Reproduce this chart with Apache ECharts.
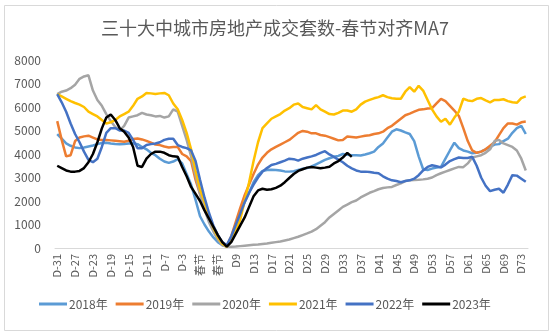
<!DOCTYPE html>
<html><head><meta charset="utf-8">
<script src="https://cdn.jsdelivr.net/npm/echarts@6/dist/echarts.min.js"></script>
<style>html,body{margin:0;padding:0;background:#fff}#c{width:550px;height:331px}</style>
</head><body><div id="c"></div>
<script>
var categories = ['D-31','D-30','D-29','D-28','D-27','D-26','D-25','D-24','D-23','D-22','D-21','D-20','D-19','D-18','D-17','D-16','D-15','D-14','D-13','D-12','D-11','D-10','D-9','D-8','D-7','D-6','D-5','D-4','D-3','D-2','D-1',
'春节','春节','春节','春节','春节','春节','春节','春节',
'D8','D9','D10','D11','D12','D13','D14','D15','D16','D17','D18','D19','D20','D21','D22','D23','D24','D25','D26','D27','D28','D29','D30','D31','D32','D33','D34','D35','D36','D37','D38','D39','D40','D41','D42','D43','D44','D45','D46','D47','D48','D49','D50','D51','D52','D53','D54','D55','D56','D57','D58','D59','D60','D61','D62','D63','D64','D65','D66','D67','D68','D69','D70','D71','D72','D73','D74'];

var yTicks = [0,1000,2000,3000,4000,5000,6000,7000,8000];

var s2018 = [4850,4650,4450,4350,4280,4250,4280,4320,4360,4420,4470,4480,4450,4430,4420,4430,4450,4460,4420,4300,4200,4050,3950,3800,3680,3620,3680,3780,3600,3150,2700,2050,1350,1000,700,450,250,120,80,
400,1000,1500,1950,2350,2800,3100,3280,3320,3330,3320,3300,3260,3250,3270,3320,3370,3400,3470,3560,3650,3750,3820,3880,3920,4000,3970,3950,3950,3940,3980,4030,4100,4300,4450,4700,4950,5050,5000,4920,4850,4550,3900,3350,3320,3380,3420,3450,3800,4150,4480,4250,4150,4100,4030,4050,4100,4200,4300,4400,4420,4550,4650,4900,5100,5200,4850];

var s2019 = [5400,4600,3900,3950,4550,4700,4750,4780,4700,4620,4600,4600,4580,4560,4540,4520,4560,4640,4660,4620,4560,4480,4400,4380,4320,4280,4300,4300,4000,3900,3700,2900,2300,1800,1300,800,400,150,80,
500,1100,1700,2250,2700,3150,3550,3850,4050,4200,4300,4400,4500,4600,4750,4900,4980,4950,4880,4880,4810,4780,4720,4650,4580,4600,4740,4720,4700,4740,4780,4800,4850,4880,4950,5100,5200,5350,5500,5650,5720,5800,5880,5900,5940,5950,6150,6350,6250,6050,5850,5620,5100,4550,4150,4050,4100,4200,4350,4500,4800,5100,5300,5300,5250,5350,5380];

var s2020 = [6550,6650,6700,6800,6950,7200,7300,7350,6700,6300,6050,5700,5400,5150,5000,5200,5550,5600,5650,5750,5680,5650,5600,5620,5550,5600,5900,5800,5200,4600,3900,3100,2300,1650,1100,700,350,120,50,
50,60,80,100,120,140,150,170,190,220,250,280,320,360,420,480,550,620,700,800,950,1100,1300,1450,1600,1750,1850,1950,2020,2150,2250,2350,2420,2500,2550,2580,2600,2680,2750,2850,2880,2890,2900,2920,2950,3000,3100,3180,3250,3320,3390,3450,3440,3600,3850,3900,3950,4050,4200,4550,4600,4450,4380,4300,4150,3800,3300];

var s2021 = [6550,6450,6350,6250,6170,6100,6000,5800,5700,5600,5450,5300,5350,5450,5600,5700,5800,6050,6350,6450,6600,6580,6550,6580,6600,6500,6150,5900,5450,4900,4200,3300,2500,1950,1400,850,450,180,60,
300,700,1200,2000,2800,3700,4500,5100,5300,5500,5600,5700,5850,5950,6100,6150,6000,5950,5900,6080,5900,5800,5700,5680,5750,5850,5850,5800,5900,6100,6230,6300,6370,6420,6500,6420,6370,6350,6350,6650,6850,6650,6900,6700,6300,5900,5600,5370,5500,5250,5550,5800,6350,6280,6250,6350,6380,6280,6200,6300,6300,6330,6250,6200,6180,6380,6450];

var s2022 = [6550,6200,5800,5300,4850,4500,4100,3750,3650,3800,4300,4900,5100,5100,5000,5000,4900,4600,4250,4250,4380,4420,4450,4500,4600,4650,4650,4380,4300,4250,4150,3700,2900,2150,1500,950,550,250,120,
500,980,1450,1950,2350,2700,3000,3250,3400,3530,3580,3650,3720,3800,3780,3720,3800,3850,3900,3960,4050,4120,3980,3880,3760,3650,3500,3390,3300,3250,3250,3230,3200,3180,3050,2950,2880,2850,2800,2850,2880,2950,3100,3300,3450,3520,3480,3430,3550,3700,3780,3850,3830,3830,3880,3500,3000,2650,2420,2480,2520,2350,2700,3100,3080,2950,2820];

var s2023 = [3500,3400,3300,3250,3250,3280,3400,3650,4000,4500,5090,5550,5680,5450,5100,4950,4700,4300,3500,3450,3800,4000,4100,4100,4050,3950,3900,3880,3450,3050,2600,2300,2000,1600,1250,900,550,250,60,
250,600,950,1300,1750,2200,2450,2520,2480,2500,2560,2650,2800,2980,3150,3280,3350,3420,3450,3420,3390,3420,3460,3600,3700,3850,4050,3880];

var seriesNames = ['2018年','2019年','2020年','2021年','2022年','2023年'];
var seriesColors = ['#5B9BD5','#ED7D31','#A5A5A5','#FFC000','#4472C4','#000000'];
var seriesData = [s2018, s2019, s2020, s2021, s2022, s2023];

var chart = echarts.init(document.getElementById('c'), null, {renderer:'canvas'});
var FONT = '"Noto Sans CJK SC", "Noto Sans", sans-serif';
chart.setOption({
  animation: false,
  backgroundColor: '#ffffff',
  textStyle: {fontFamily: FONT},
  graphic: [{type:'rect', left: 2, top: 3, shape:{width:544, height:325}, style:{fill:'none', stroke:'#D9D9D9', lineWidth:1}, silent:true}],
  title: {text:'三十大中城市房地产成交套数-春节对齐MA7', left:'center', top:14,
    textStyle:{color:'#595959', fontSize:18, fontWeight:'normal', fontFamily: FONT}},
  legend: {bottom: 16, left: 34, itemWidth: 28, itemHeight: 3, icon: 'rect', itemGap: 8,
    textStyle:{color:'#595959', fontSize:12, fontFamily: FONT, padding:[0,0,0,-3]},
    data: seriesNames},
  grid: {left: 55, right: 22, top: 60, bottom: 83, containLabel:false},
  xAxis: {type:'category', data: categories, boundaryGap: true,
    axisLine:{lineStyle:{color:'#D9D9D9', width:1}}, axisTick:{show:false},
    axisLabel:{interval:3, rotate:90, color:'#595959', fontSize:11, margin:6, fontFamily: FONT}},
  yAxis: {type:'value', min: yTicks[0], max: yTicks[yTicks.length-1], interval: 1000,
    axisLine:{show:false}, axisTick:{show:false}, splitLine:{show:false},
    axisLabel:{color:'#595959', fontSize:12, margin:14, fontFamily: FONT,
      formatter: function(v){ return String(v); }}},
  series: seriesNames.map(function(n,i){
    return {name:n, type:'line', data: seriesData[i], showSymbol:false, symbol:'none', smooth:false,
      lineStyle:{color: seriesColors[i], width: 2.5}, itemStyle:{color: seriesColors[i]}};
  })
});
</script></body></html>
